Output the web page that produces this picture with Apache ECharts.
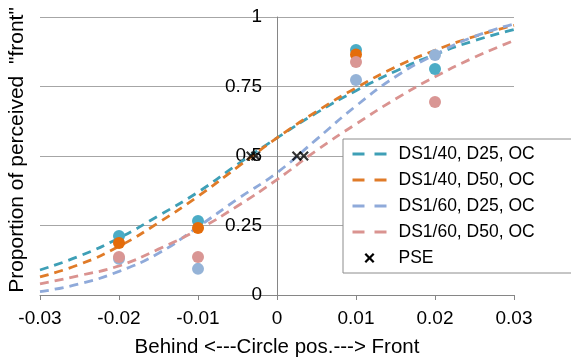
<!DOCTYPE html>
<html><head><meta charset="utf-8">
<script src="https://cdn.jsdelivr.net/npm/echarts@6/dist/echarts.min.js"></script>
<style>html,body{margin:0;padding:0;background:#fff}#c{width:571px;height:360px}</style>
</head><body><div id="c"></div>
<script>
// Curve sample positions and values
const curveX = [-0.03,-0.025,-0.02,-0.015,-0.01,-0.005,0,0.005,0.01,0.015,0.02,0.025,0.03];
const curveDS140D25 = [0.09,0.14,0.205,0.285,0.37,0.47,0.565,0.655,0.735,0.805,0.865,0.915,0.955];
const curveDS140D50 = [0.065,0.11,0.175,0.26,0.355,0.46,0.565,0.66,0.745,0.82,0.88,0.93,0.97];
const curveDS160D25 = [0.012,0.04,0.085,0.15,0.245,0.345,0.44,0.56,0.68,0.785,0.865,0.93,0.975];
const curveDS160D50 = [0.04,0.07,0.105,0.165,0.235,0.32,0.415,0.52,0.615,0.705,0.785,0.855,0.915];
// Observed data points
const dotX140D25 = [-0.02,-0.01,0.01,0.02];
const dots140D25 = [0.212,0.266,0.881,0.813];
const dotX140D50 = [-0.02,-0.01,0.01];
const dots140D50 = [0.187,0.241,0.865];
const dotX160D25 = [-0.02,-0.01,0.01,0.02];
const dots160D25 = [0.13,0.094,0.773,0.863];
const dotX160D50 = [-0.02,-0.01,0.01,0.02];
const dots160D50 = [0.137,0.137,0.838,0.694];
const pseX = [-0.0033,-0.0027,0.0025,0.0034];
const pseY = [0.5,0.5,0.5,0.5];
const names = ['DS1/40, D25, OC','DS1/40, D50, OC','DS1/60, D25, OC','DS1/60, D50, OC','PSE'];
const lineColors = ['#3E9FB6','#E07B28','#8FAADA','#DA9390'];
const dotColors = ['#4BACC6','#E46C0A','#95B3D7','#D99694'];

const zip = (xs, ys) => xs.map((x,i)=>[x, ys[i]]);
const FONT = 'Liberation Sans, Arial, sans-serif';
const xPath = 'path://M0,1.6L1.6,0L5,3.4L8.4,0L10,1.6L6.6,5L10,8.4L8.4,10L5,6.6L1.6,10L0,8.4L3.4,5Z';

const curves = [curveDS140D25, curveDS140D50, curveDS160D25, curveDS160D50];
const dots = [[dotX140D25,dots140D25],[dotX140D50,dots140D50],[dotX160D25,dots160D25],[dotX160D50,dots160D50]];

const series = [];
curves.forEach((c,i)=>{
  series.push({name:names[i], type:'line', smooth:true, showSymbol:false, symbol:'none',
    data: zip(curveX, c), z:2,
    lineStyle:{color:lineColors[i], width:2.8, type:[9,6]}, itemStyle:{color:lineColors[i]}});
});
dots.forEach((d,i)=>{
  series.push({name:'dots'+i, type:'scatter', symbol:'circle', symbolSize:12, z:3,
    data: zip(d[0], d[1]), itemStyle:{color:dotColors[i], opacity:1}});
});
series.push({name:names[4], type:'scatter', symbol:xPath, symbolSize:10, z:4,
  data: zip(pseX, pseY), itemStyle:{color:'#000'}});

const chart = echarts.init(document.getElementById('c'), null, {renderer:'canvas'});
chart.setOption({
  animation:false,
  backgroundColor:'#fff',
  grid:{left:40, right:57, top:17, bottom:65, outerBoundsMode:'none', containLabel:false},
  xAxis:{type:'value', min:-0.03, max:0.03, interval:0.01,
    name:'Behind <---Circle pos.---> Front', nameLocation:'middle', nameGap:42,
    nameTextStyle:{fontFamily:FONT, fontSize:20.5, color:'#000'},
    axisLine:{onZero:false, lineStyle:{color:'#868686', width:1}},
    axisTick:{show:true, length:5, lineStyle:{color:'#868686'}},
    axisLabel:{fontFamily:FONT, fontSize:19, color:'#000', margin:14,
      formatter:v=>{const r=Math.round(v*100)/100; return r===0?'0':r.toFixed(2);}},
    splitLine:{show:false}},
  yAxis:{type:'value', min:0, max:1, interval:0.25, position:'left', offset:-237,
    axisLine:{show:true, onZero:false, lineStyle:{color:'#868686', width:1}},
    axisTick:{show:false},
    axisLabel:{fontFamily:FONT, fontSize:19, color:'#000', margin:15},
    splitLine:{show:true, lineStyle:{color:'#A6A6A6', width:1}}},
  legend:{orient:'vertical', left:343, top:139, itemWidth:34, itemHeight:10, itemGap:8,
    padding:[6,39,6,8], backgroundColor:'#fff', borderColor:'#8C8C8C', borderWidth:1,
    textStyle:{fontFamily:FONT, fontSize:17.5, color:'#000', padding:[0,0,0,7]},
    lineStyle:{type:[12,10], width:3},
    itemStyle:{opacity:0},
    data:[
      {name:names[0]},{name:names[1]},{name:names[2]},{name:names[3]},
      {name:names[4], icon:xPath, itemStyle:{opacity:1, color:'#000'}}
    ]},
  graphic:[{type:'text', x:17, y:150, rotation:Math.PI/2,
    style:{text:'Proportion of perceived  "front"', font:'21px '+FONT, fill:'#000',
      textAlign:'center', textVerticalAlign:'middle'}}],
  series:series
});
</script></body></html>
